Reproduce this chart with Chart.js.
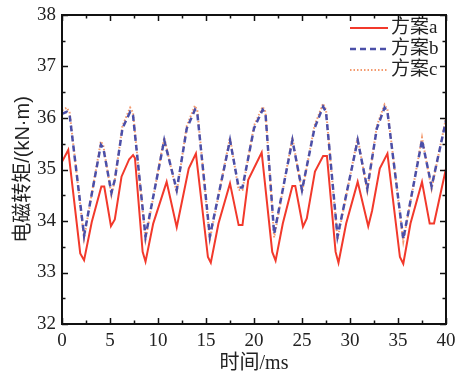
<!DOCTYPE html>
<html>
<head>
<meta charset="utf-8">
<script src="https://cdn.jsdelivr.net/npm/chart.js@4/dist/chart.umd.min.js"></script>
<style>
  html, body { margin: 0; padding: 0; background: #fff; }
  #wrap { width: 457px; height: 376px; }
</style>
</head>
<body>
<div id="wrap"><canvas id="chart" width="457" height="376"></canvas></div>
<script>
// data (time in ms, torque in kN·m)
const seriesNames = ['方案a', '方案b', '方案c'];

const timeA = [0, 0.65, 1.9, 2.3, 3.1, 4.1, 4.4, 5.1, 5.5, 6.2, 7.0, 7.4, 7.6, 8.4, 8.7, 9.5, 10.9, 11.95, 12.3, 13.2, 13.95,
  15.2, 15.5, 16.3, 17.5, 18.4, 18.8, 19.4, 20.8, 21.9, 22.25, 23.0, 24.0, 24.3, 25.1, 25.5, 26.35, 27.2, 27.6,
  28.5, 28.8, 29.6, 30.8, 31.9, 32.3, 33.1, 33.9, 35.2, 35.55, 36.3, 37.5, 38.3, 38.75, 40];
const torqueA = [35.15, 35.38, 33.37, 33.24, 33.98, 34.67, 34.67, 33.9, 34.03, 34.86, 35.2, 35.28, 35.22, 33.4, 33.21, 33.95, 34.76, 33.88, 34.2, 35.02, 35.31,
  33.3, 33.19, 33.95, 34.73, 33.92, 33.92, 34.8, 35.33, 33.4, 33.23, 33.95, 34.68, 34.68, 33.89, 34.05, 34.96, 35.26, 35.26,
  33.4, 33.19, 33.95, 34.76, 33.9, 34.2, 35.02, 35.31, 33.3, 33.17, 33.95, 34.76, 33.95, 33.95, 35.02];

const timeB = [0, 0.5, 0.8, 2.3, 4.05, 4.3, 5.15, 5.5, 6.3, 7.1, 7.4, 8.7, 10.65, 11.95, 13.0, 13.85, 14.1, 15.4, 17.5, 18.4, 18.8,
  20.0, 20.9, 21.2, 22.1, 24.0, 25.0, 26.3, 27.2, 27.5, 28.7, 30.8, 31.8, 32.8, 33.6, 33.9, 35.55, 37.5, 38.5, 40];
const torqueB = [36.08, 36.12, 36.05, 33.72, 35.48, 35.42, 34.55, 34.8, 35.8, 36.12, 36.05, 33.7, 35.57, 34.6, 35.8, 36.16, 36.08, 33.7, 35.57, 34.65, 34.65,
  35.8, 36.16, 36.08, 33.75, 35.57, 34.6, 35.8, 36.22, 36.12, 33.7, 35.57, 34.63, 35.8, 36.2, 36.12, 33.65, 35.57, 34.67, 35.95];

const timeC = [0, 0.5, 0.8, 2.3, 4.05, 4.3, 5.15, 5.5, 6.3, 7.1, 7.4, 8.7, 10.65, 11.95, 13.0, 13.85, 14.1, 15.4, 17.5, 18.4, 18.8,
  20.0, 20.9, 21.2, 22.1, 24.0, 25.0, 26.3, 27.2, 27.5, 28.7, 30.8, 31.8, 32.8, 33.6, 33.9, 35.55, 37.5, 38.5, 40];
const torqueC = [36.15, 36.2, 36.1, 33.66, 35.55, 35.47, 34.5, 34.8, 35.85, 36.2, 36.1, 33.64, 35.62, 34.55, 35.85, 36.24, 36.14, 33.64, 35.62, 34.6, 34.6,
  35.85, 36.22, 36.12, 33.68, 35.62, 34.55, 35.85, 36.28, 36.16, 33.64, 35.62, 34.58, 35.85, 36.26, 36.16, 33.6, 35.62, 34.62, 36.0];

const xTicks = [0, 5, 10, 15, 20, 25, 30, 35, 40];
const yTicks = [32, 33, 34, 35, 36, 37, 38];

const pts = (xs, ys) => xs.map((x, i) => ({ x: x, y: ys[i] }));

const serif = '"Liberation Serif", "Times New Roman", "Noto Sans CJK SC", serif';

// inward ticks + full frame + legend inside plot
const framePlugin = {
    id: 'frame',
    afterDatasetsDraw(chart) {
        const { ctx, chartArea: a, scales } = chart;
        const x = scales.x, y = scales.y;
        ctx.save();
        ctx.strokeStyle = '#111';
        ctx.lineWidth = 1.5;
        ctx.beginPath();
        // x ticks (major 5, minor 2.5) on bottom and top
        for (let v = xTicks[0]; v <= xTicks[xTicks.length - 1]; v += 2.5) {
            const px = Math.round(x.getPixelForValue(v)) + 0.5;
            const len = (v % 5 === 0) ? 6 : 3.5;
            ctx.moveTo(px, a.bottom); ctx.lineTo(px, a.bottom - len);
            ctx.moveTo(px, a.top); ctx.lineTo(px, a.top + len);
        }
        // y ticks (major 1, minor 0.5) on left and right
        for (let v = yTicks[0]; v <= yTicks[yTicks.length - 1]; v += 0.5) {
            const py = Math.round(y.getPixelForValue(v)) + 0.5;
            const len = (v % 1 === 0) ? 6 : 3.5;
            ctx.moveTo(a.left, py); ctx.lineTo(a.left + len, py);
            ctx.moveTo(a.right, py); ctx.lineTo(a.right - len, py);
        }
        ctx.stroke();
        ctx.lineWidth = 2;
        ctx.strokeRect(a.left, a.top, a.right - a.left, a.bottom - a.top);

        // legend
        const x0 = a.right - 96, x1 = a.right - 58;
        chart.data.datasets.forEach((ds, i) => {
            const ly = a.top + 13 + i * 21;
            ctx.strokeStyle = ds.borderColor;
            ctx.lineWidth = ds.borderWidth;
            ctx.setLineDash(ds.borderDash || []);
            ctx.beginPath();
            ctx.moveTo(x0, ly); ctx.lineTo(x1, ly);
            ctx.stroke();
            ctx.setLineDash([]);
            ctx.fillStyle = '#222';
            ctx.font = '19px ' + serif;
            ctx.textBaseline = 'middle';
            ctx.textAlign = 'left';
            ctx.fillText(ds.label, x1 + 3, ly);
        });
        ctx.restore();
    }
};

new Chart(document.getElementById('chart'), {
    type: 'line',
    data: {
        datasets: [
            { label: seriesNames[0], data: pts(timeA, torqueA), borderColor: '#f2392b', borderWidth: 2, order: 0 },
            { label: seriesNames[1], data: pts(timeB, torqueB), borderColor: '#4b4fa8', borderWidth: 2.5, borderDash: [6, 4], order: 1 },
            { label: seriesNames[2], data: pts(timeC, torqueC), borderColor: '#f39a6e', borderWidth: 2, borderDash: [1.5, 2], order: 2 }
        ]
    },
    options: {
        responsive: false,
        animation: false,
        layout: { padding: { top: 15, right: 11, left: 0, bottom: 0 } },
        elements: { point: { radius: 0 }, line: { tension: 0 } },
        plugins: { legend: { display: false }, tooltip: { enabled: false } },
        scales: {
            x: {
                type: 'linear', min: 0, max: 40,
                afterBuildTicks: s => { s.ticks = xTicks.map(v => ({ value: v })); },
                afterFit: s => { s.height = 52; s.paddingRight = 0; s.paddingLeft = 0; },
                grid: { display: true, drawOnChartArea: false, drawTicks: false },
                border: { display: false },
                ticks: { color: '#222', padding: 6, maxRotation: 0, font: { family: serif, size: 19 } },
                title: { display: true, text: '时间/ms', color: '#222', padding: 0, font: { family: serif, size: 20 } }
            },
            y: {
                min: 32, max: 38,
                afterBuildTicks: s => { s.ticks = yTicks.map(v => ({ value: v })); },
                afterFit: s => { s.width = 62; s.paddingTop = 0; s.paddingBottom = 0; },
                grid: { display: true, drawOnChartArea: false, drawTicks: false },
                border: { display: false },
                ticks: { color: '#222', padding: 6, font: { family: serif, size: 19 } },
                title: { display: true, text: '电磁转矩/(kN·m)', color: '#222', padding: { top: 11, bottom: 0 }, font: { family: '"Liberation Sans", "Noto Sans CJK SC", sans-serif', size: 20 } }
            }
        }
    },
    plugins: [framePlugin]
});
</script>
</body>
</html>
